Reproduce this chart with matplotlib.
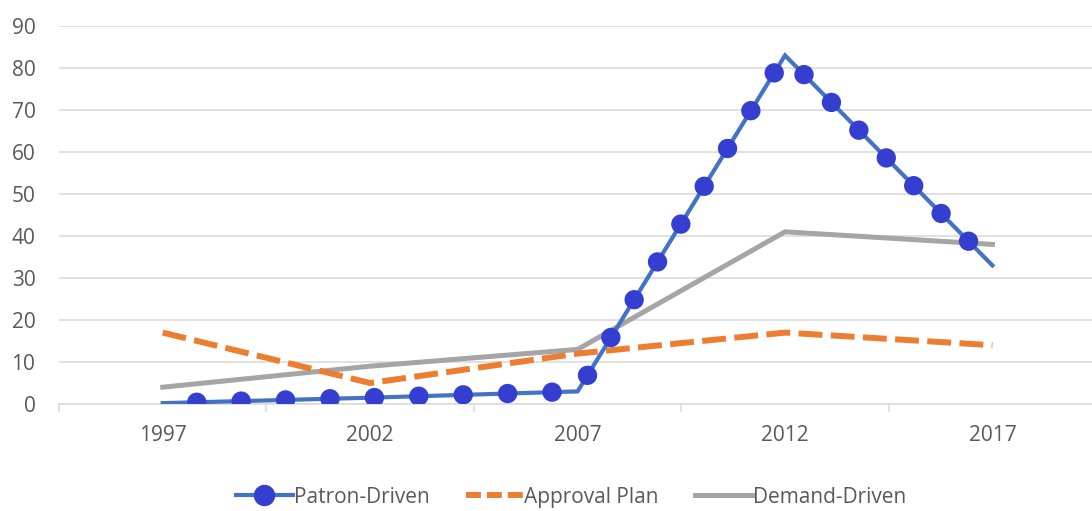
import matplotlib
matplotlib.use("Agg")
import matplotlib.pyplot as plt
from matplotlib.lines import Line2D

plt.rcParams["font.family"] = ["Open Sans", "DejaVu Sans"]
plt.rcParams["font.weight"] = 500

years = [1997, 2002, 2007, 2012, 2017]
patron_driven = [0.2, 1.5, 3, 83, 33]
approval_plan = [17, 5, 12, 17, 14]
demand_driven = [4, 9, 13, 41, 38]
series_names = ["Patron-Driven", "Approval Plan", "Demand-Driven"]

BLUE_LINE = "#4472C4"
BLUE_DOT = "#343FD2"
ORANGE = "#ED7D31"
GRAY = "#A5A5A5"
TEXT = "#595959"
GRID = "#D9D9D9"
FS = 15

fig = plt.figure(figsize=(10.92, 5.11), dpi=100)
ax = fig.add_axes([59 / 1092, 1 - 404 / 511, 1 - 59 / 1092, 378 / 511])

ax.plot(years, demand_driven, color=GRAY, lw=3.6, solid_joinstyle="miter", zorder=3)
ax.plot(years, approval_plan, color=ORANGE, lw=4.3, dashes=(4.0, 1.4),
        dash_capstyle="butt", zorder=3)
ax.plot(years, patron_driven, color=BLUE_LINE, lw=3.0, solid_joinstyle="miter", zorder=4)

# round dots along the patron line: zero-length dashes with round caps,
# rising part and falling part spaced separately
DOT_LW = 14
ax.plot(years[:4], patron_driven[:4], color=BLUE_DOT, lw=DOT_LW,
        linestyle=(0.535, (0.001, 2.284)), dash_capstyle="round", zorder=5)
ax.plot(years[3:], patron_driven[3:], color=BLUE_DOT, lw=DOT_LW,
        linestyle=(0.617, (0.001, 2.006)), dash_capstyle="round", zorder=5)

ax.set_xlim(1994.5, 2019.4)
ax.set_ylim(0, 90)
ax.set_yticks(range(0, 91, 10))
ax.set_xticks(years)
ax.set_xticks([1994.5, 1999.5, 2004.5, 2009.5, 2014.5], minor=True)

ax.grid(axis="y", color=GRID, lw=1.1, zorder=0)
for side in ["top", "right", "left"]:
    ax.spines[side].set_visible(False)
ax.spines["bottom"].set_color(GRID)
ax.spines["bottom"].set_linewidth(1.1)

ax.tick_params(axis="y", length=0, pad=17, labelsize=FS, labelcolor=TEXT)
ax.tick_params(axis="x", which="major", length=0, pad=15, labelsize=FS, labelcolor=TEXT)
ax.tick_params(axis="x", which="minor", length=6, width=1.1, color=GRID, direction="out")

handles = [
    Line2D([], [], color=BLUE_LINE, lw=3.0, marker="o", markersize=14.4,
           markerfacecolor=BLUE_DOT, markeredgecolor=BLUE_DOT),
    Line2D([], [], color=ORANGE, lw=4.3, dashes=(2.5, 1.0), dash_capstyle="butt"),
    Line2D([], [], color=GRAY, lw=3.6),
]
leg = fig.legend(handles, series_names, loc="center", bbox_to_anchor=(571 / 1092, 1 - 497 / 511),
                 ncol=3, frameon=False, fontsize=FS, handlelength=2.74,
                 handletextpad=0.05, columnspacing=1.75)
for t in leg.get_texts():
    t.set_color(TEXT)

fig.savefig("out.png", dpi=100)
